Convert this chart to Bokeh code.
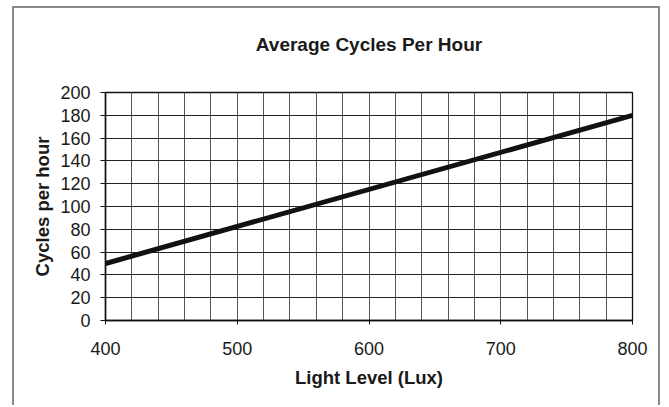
from bokeh.plotting import figure
from bokeh.models import Range1d, FixedTicker, Title
from bokeh.embed import file_html
from bokeh.resources import INLINE

# data
light_level = [400, 800]
cycles_per_hour = [50, 180]
x_ticks = [400, 500, 600, 700, 800]
x_grid_ticks = list(range(400, 801, 20))
y_ticks = list(range(0, 201, 20))
title_text = "Average Cycles Per Hour"

FONT = "Liberation Sans"

p = figure(width=648, height=399, output_backend="svg", toolbar_location=None,
           x_range=Range1d(400, 800), y_range=Range1d(0, 200),
           min_border_left=91, min_border_right=30, min_border_top=84, min_border_bottom=87)
p.styles = {"border-left": "2px solid #8a8a8a", "border-top": "2px solid #8a8a8a",
            "border-right": "2px solid #8a8a8a", "margin-left": "12px", "margin-top": "6px"}

p.title = Title(text=title_text + "\n ", text_font=FONT, text_font_size="19px",
                text_font_style="bold", text_color="#1a1a1a", align="center",
                standoff=10, text_line_height=1.0)
# blank spacer between the frame and the title
p.add_layout(Title(text=" ", text_font_size="9px", standoff=0), "above")

p.line(light_level, cycles_per_hour, line_color="#111111", line_width=5)

p.outline_line_color = "#111111"
p.outline_line_width = 1.3

p.xaxis.ticker = FixedTicker(ticks=x_ticks)
p.yaxis.ticker = FixedTicker(ticks=y_ticks)
p.xgrid.ticker = FixedTicker(ticks=x_grid_ticks)
p.ygrid.ticker = FixedTicker(ticks=y_ticks)
p.xgrid.grid_line_color = "#555555"
p.ygrid.grid_line_color = "#222222"
p.xgrid.grid_line_width = 1
p.ygrid.grid_line_width = 1

for ax in (p.xaxis, p.yaxis):
    ax.axis_line_color = "#111111"
    ax.axis_line_width = 1.5
    ax.major_tick_line_color = "#111111"
    ax.major_tick_in = 0
    ax.major_tick_out = 5
    ax.minor_tick_line_color = None
    ax.major_label_text_font = FONT
    ax.major_label_text_font_size = "18px"
    ax.major_label_text_color = "#1a1a1a"
    ax.axis_label_text_font = FONT
    ax.axis_label_text_font_size = "18.5px"
    ax.axis_label_text_font_style = "bold"
    ax.axis_label_text_color = "#1a1a1a"

p.xaxis.axis_label = "Light Level (Lux)"
p.yaxis.axis_label = "Cycles per hour"
p.xaxis.major_tick_out = 4
p.xaxis.major_label_standoff = 17
p.yaxis.major_label_standoff = 10
p.xaxis.axis_label_standoff = 9
p.yaxis.axis_label_standoff = 4

open("out.html", "w").write(file_html(p, INLINE))
